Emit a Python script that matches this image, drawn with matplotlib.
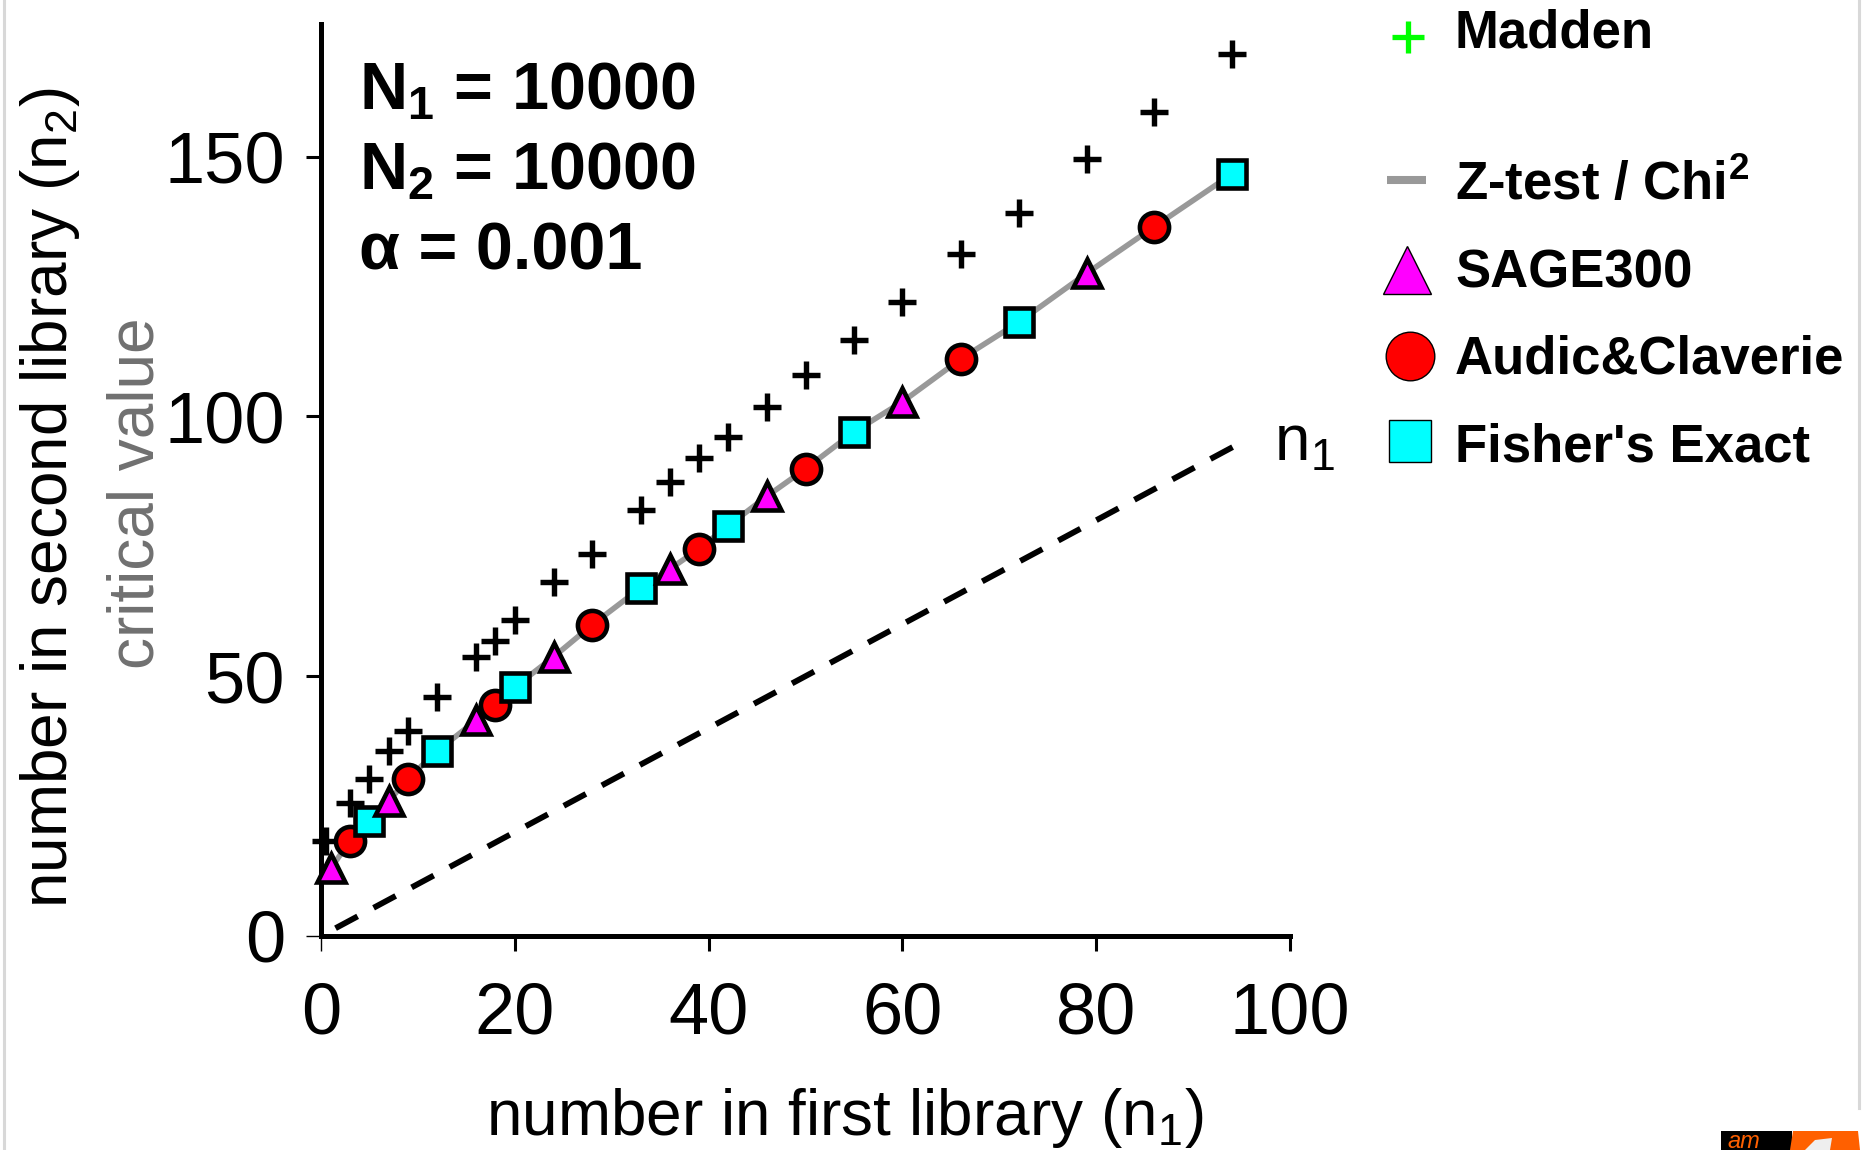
import matplotlib
matplotlib.use('Agg')
import matplotlib.pyplot as plt
from matplotlib.patches import Rectangle, Polygon

plt.rcParams['font.family'] = ['Liberation Sans', 'DejaVu Sans']
plt.rcParams['mathtext.fontset'] = 'custom'
plt.rcParams['mathtext.rm'] = 'Liberation Sans'
plt.rcParams['mathtext.it'] = 'Liberation Sans:italic'
plt.rcParams['mathtext.bf'] = 'Liberation Sans:bold'
plt.rcParams['mathtext.sf'] = 'Liberation Sans'

# ---------------- data ----------------
madden_x = [0.5, 3, 5, 7, 9, 12, 16, 18, 20, 24, 28, 33, 36, 39, 42, 46, 50, 55, 60, 66, 72, 79, 86, 94]
madden_y = [18.3, 25.5, 30.3, 35.6, 39.4, 45.9, 53.7, 56.7, 60.8, 68.1, 73.6, 81.9, 87.4, 92.0,
            96.1, 101.8, 108.0, 114.7, 122.0, 131.2, 139.2, 149.5, 158.5, 169.7]

ztest_x = [1, 3, 5, 7, 9, 12, 16, 18, 20, 24, 28, 33, 36, 39, 42, 46, 50, 55, 60, 66, 72, 79, 86, 94]
ztest_y = [13.0, 18.3, 22.2, 26.0, 30.3, 35.6, 41.5, 44.5, 47.9, 53.7, 59.9, 67.0, 70.6, 74.5,
           78.9, 84.6, 89.9, 97.0, 102.8, 111.0, 118.1, 127.5, 136.5, 146.6]

sage_x = [1, 7, 16, 24, 36, 46, 60, 79]
sage_y = [13.0, 26.0, 41.5, 53.7, 70.6, 84.6, 102.8, 127.5]

audic_x = [3, 9, 18, 28, 39, 50, 66, 86]
audic_y = [18.3, 30.3, 44.5, 59.9, 74.5, 89.9, 111.0, 136.5]

fisher_x = [5, 12, 20, 33, 42, 55, 72, 94]
fisher_y = [22.2, 35.6, 47.9, 67.0, 78.9, 97.0, 118.1, 146.6]

n1_x = [1.5, 95]
n1_y = [1.5, 95]

x_ticks = [0, 20, 40, 60, 80, 100]
y_ticks = [0, 50, 100, 150]

legend_labels = ['Madden', r'Z-test / Chi$^{\mathbf{2}}$', 'SAGE300', 'Audic&Claverie', "Fisher's Exact"]
info_lines = [r'$\mathbf{N_1}$ = 10000', r'$\mathbf{N_2}$ = 10000', 'α = 0.001']

# ---------------- figure ----------------
W, H = 1867, 1150
fig = plt.figure(figsize=(W / 100, H / 100), dpi=100)
fig.patch.set_facecolor('white')

ax = fig.add_axes([321 / W, 1 - 936 / H, 969 / W, (936 - 24) / H])
ax.set_xlim(0, 100)
ax.set_ylim(0, 175.5)
ax.set_facecolor('none')

for s in ['top', 'right']:
    ax.spines[s].set_visible(False)
for s in ['left', 'bottom']:
    ax.spines[s].set_linewidth(3.6)
    ax.spines[s].set_color('black')

ax.set_xticks(x_ticks)
ax.set_yticks(y_ticks)
ax.tick_params(axis='both', direction='out', length=11, width=2.2, color='black', labelsize=52)
ax.tick_params(axis='x', pad=22)
ax.tick_params(axis='y', pad=15)
ax.xaxis.get_major_ticks()[0].tick1line.set_color('#888888')
ax.xaxis.get_major_ticks()[0].tick1line.set_markeredgewidth(1)
ax.yaxis.get_major_ticks()[0].tick1line.set_color('#888888')
ax.yaxis.get_major_ticks()[0].tick1line.set_markeredgewidth(1)

# lines
ax.plot(ztest_x, ztest_y, color='#999999', lw=4.0, solid_capstyle='butt', zorder=2)
ax.plot(n1_x, n1_y, color='black', lw=4.2, dashes=(4.3, 3.1), dash_capstyle='butt', zorder=2)

# markers
ax.plot(madden_x, madden_y, ls='none', marker='+', ms=20, mew=3.9, color='black',
        zorder=3, clip_on=False)
ax.plot(audic_x, audic_y, ls='none', marker='o', ms=21, mfc='#ff0000', mec='black',
        mew=3.3, zorder=4, clip_on=False)
ax.plot(fisher_x, fisher_y, ls='none', marker='s', ms=20.5, mfc='#00ffff', mec='black',
        mew=3.3, zorder=5, clip_on=False)
ax.plot(sage_x, sage_y, ls='none', marker='^', ms=19.5, mfc='#ff00ff', mec='black',
        mew=3.3, zorder=6, clip_on=False)

# ---------------- overlay in pixel coordinates ----------------
lax = fig.add_axes([0, 0, 1, 1])
lax.set_xlim(0, W)
lax.set_ylim(H, 0)
lax.axis('off')
lax.patch.set_alpha(0)

# axis labels
lax.text(845, 1135, r'number in first library (n$_1$)', fontsize=46, ha='center', va='baseline')
lax.text(67, 498, r'number in second library (n$_2$)', fontsize=46, ha='center', va='baseline',
         rotation=90, rotation_mode='anchor')
lax.text(153, 493, 'critical value', fontsize=46, ha='center', va='baseline', color='#707070',
         rotation=90, rotation_mode='anchor')

# n1 label
lax.text(1274, 461, r'n$_1$', fontsize=46, ha='left', va='baseline')

# info text
for txt, yb in zip(info_lines, [110, 190, 270]):
    lax.text(359, yb, txt, fontsize=48, fontweight='bold', ha='left', va='baseline')

# legend
lax.plot([1408], [37], ls='none', marker='+', ms=23, mew=3.8, color='#00ff00')
lax.plot([1387, 1426], [180, 180], color='#999999', lw=5.8, solid_capstyle='butt')
lax.plot([1407], [270], ls='none', marker='^', ms=34, mfc='#ff00ff', mec='black', mew=1.0)
lax.plot([1410], [356], ls='none', marker='o', ms=35, mfc='#ff0000', mec='black', mew=1.0)
lax.plot([1410], [441], ls='none', marker='s', ms=30.5, mfc='#00ffff', mec='black', mew=1.0)
for lbl, yb in zip(legend_labels, [48, 200, 288, 374, 461]):
    lax.text(1455, yb, lbl, fontsize=38, fontweight='bold', ha='left', va='baseline')

# frame lines at the image edges
lax.plot([4, 4], [0, H], color='#d8d8d8', lw=2.2)
lax.plot([1859, 1859], [0, 1108], color='#d8d8d8', lw=2.2)

# partial logo at bottom right
lax.add_patch(Rectangle((1721, 1131), 71, 19, facecolor='black', edgecolor='none'))
lax.add_patch(Polygon([(1793, 1131), (1858, 1131), (1860, 1150), (1790, 1150)],
                      closed=True, facecolor='#ff6000', edgecolor='none'))
lax.add_patch(Polygon([(1805, 1150), (1815, 1140), (1832, 1138), (1830, 1150)],
                      closed=True, facecolor='#eeeeee', edgecolor='none'))
lax.text(1727, 1148, 'am', fontsize=17, fontstyle='italic', color='#ff6000', ha='left',
         va='baseline')

fig.savefig('out.png', dpi=100)
